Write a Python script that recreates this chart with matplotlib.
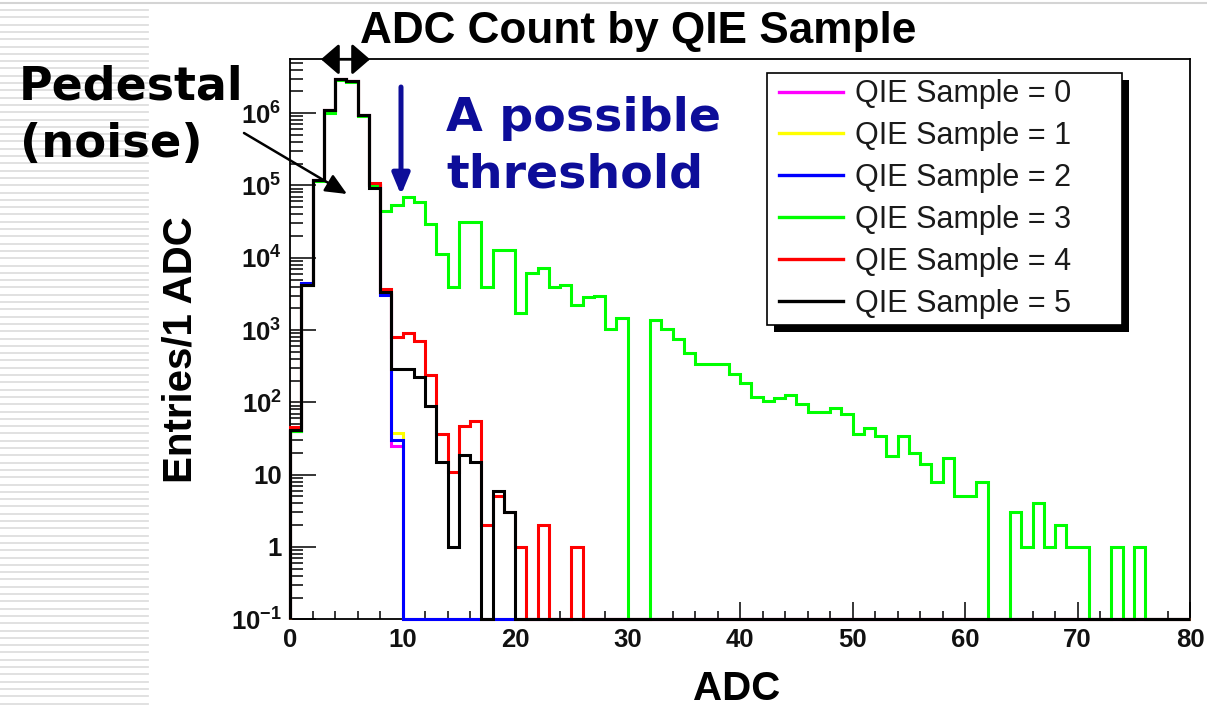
import numpy as np
import matplotlib
matplotlib.use("Agg")
import matplotlib.pyplot as plt
from matplotlib.lines import Line2D
from matplotlib.patches import Rectangle
from matplotlib.ticker import FixedLocator, FixedFormatter, NullFormatter

plt.rcParams['font.family'] = ['Liberation Sans', 'DejaVu Sans']
plt.rcParams['mathtext.fontset'] = 'custom'
plt.rcParams['mathtext.rm'] = 'Liberation Sans'
plt.rcParams['mathtext.bf'] = 'Liberation Sans:bold'
plt.rcParams['mathtext.it'] = 'Liberation Sans:italic'

# ---------------- data (entries per 1-ADC bin, starting at ADC 0) ----------------
n_bins = 80
series_labels = ["QIE Sample = 0", "QIE Sample = 1", "QIE Sample = 2",
                 "QIE Sample = 3", "QIE Sample = 4", "QIE Sample = 5"]
series_colors = ["#ff00ff", "#ffff00", "#0000ff", "#00ff00", "#ff0000", "#000000"]

sample0 = [40, 4300, 1.2e5, 1.1e6, 3.0e6, 2.75e6, 9.3e5, 1.0e5, 3.2e3, 25]
sample1 = [40, 4300, 1.2e5, 1.1e6, 3.0e6, 2.75e6, 9.3e5, 1.0e5, 3.2e3, 38]
sample2 = [40, 4500, 1.2e5, 1.1e6, 3.0e6, 2.75e6, 9.3e5, 1.0e5, 3.1e3, 30]
sample3 = [40, 4200, 1.15e5, 1.0e6, 2.9e6, 2.7e6, 9.0e5, 1.0e5,
           4.4e4, 5.3e4, 7.0e4, 5.9e4, 2.9e4, 1.12e4, 3.9e3, 3.1e4, 3.1e4, 3.9e3,
           1.26e4, 1.26e4, 1.74e3, 6.2e3, 7.1e3, 3.9e3, 4.2e3, 2.2e3, 2.9e3, 3.0e3,
           1050, 1480, 0, 0,
           1360, 1050, 760, 487, 335, 335, 335, 250, 187, 120, 104, 116, 126, 96,
           73, 73, 83, 70, 37, 44, 34, 18, 34, 20, 14, 8, 17, 5, 5, 8, 0, 0,
           3, 1, 4, 1, 2, 1, 1, 0, 0, 1, 0, 1]
sample4 = [45, 4200, 1.2e5, 1.1e6, 3.0e6, 2.75e6, 9.3e5, 1.07e5, 3.7e3, 810, 900, 700,
           240, 37, 11, 47, 55, 2, 5, 3, 1, 0, 2, 0, 0, 1]
sample5 = [41, 4200, 1.17e5, 1.1e6, 3.0e6, 2.75e6, 9.3e5, 9.1e4, 3.4e3, 285, 285, 226,
           88, 15, 1, 19, 15, 0, 6, 3]
samples = [sample0, sample1, sample2, sample3, sample4, sample5]

x_ticks = [0, 10, 20, 30, 40, 50, 60, 70, 80]
y_ticks = [0.1, 1, 10, 1e2, 1e3, 1e4, 1e5, 1e6]
y_ticklabels = [r"$\mathbf{10^{-1}}$", "1", "10", r"$\mathbf{10^{2}}$", r"$\mathbf{10^{3}}$",
                r"$\mathbf{10^{4}}$", r"$\mathbf{10^{5}}$", r"$\mathbf{10^{6}}$"]

# ---------------- figure ----------------
W, H = 1207, 708
fig = plt.figure(figsize=(W / 100, H / 100), dpi=100)
fig.patch.set_facecolor("white")

def fx(px):
    return px / W

def fy(py):
    return 1 - py / H

# slide template decoration: light horizontal stripes on the left and a top rule
for yy in np.arange(10, H, 7.3):
    fig.add_artist(Line2D([0, fx(148)], [fy(yy), fy(yy)], color="#dedede", lw=1.3,
                          transform=fig.transFigure, zorder=0))
fig.add_artist(Line2D([0, 1], [fy(3), fy(3)], color="#d4d4d4", lw=1.5,
                      transform=fig.transFigure, zorder=0))

ax_l, ax_r, ax_t, ax_b = 290, 1190, 59, 619.3
ax = fig.add_axes([fx(ax_l), fy(ax_b), fx(ax_r - ax_l), (ax_b - ax_t) / H])
ax.set_yscale("log")
ax.set_xlim(0, 80)
ax.set_ylim(0.1, 5.6e6)

edges = np.arange(0, n_bins + 1)
floor = 0.1
for vals, col in zip(samples, series_colors):
    v = np.zeros(n_bins)
    v[:len(vals)] = vals
    v = np.where(v > 0, v, floor)
    ax.stairs(v, edges, baseline=floor, color=col, lw=2.2, zorder=3, clip_on=False)

for s in ax.spines.values():
    s.set_linewidth(1.3)
    s.set_color("black")

ax.xaxis.set_major_locator(FixedLocator(x_ticks))
ax.xaxis.set_minor_locator(FixedLocator(np.arange(0, 81, 2)))
ax.yaxis.set_major_locator(FixedLocator(y_ticks))
minors = [m * 10.0 ** e for e in range(-1, 7) for m in range(2, 10)]
ax.yaxis.set_minor_locator(FixedLocator(minors))
ax.yaxis.set_major_formatter(FixedFormatter(y_ticklabels))
ax.yaxis.set_minor_formatter(NullFormatter())
ax.tick_params(axis="both", which="both", direction="in", top=False, right=False,
               width=1.1, colors="black")
ax.tick_params(axis="x", which="major", length=12, pad=6)
ax.tick_params(axis="x", which="minor", length=6)
ax.tick_params(axis="y", which="major", length=18.5, pad=6)
ax.tick_params(axis="y", which="minor", length=9.5)
for lab in ax.get_xticklabels() + ax.get_yticklabels():
    lab.set_fontsize(18.5)
    lab.set_fontweight("bold")
    lab.set_color("#111111")

# titles / axis labels
fig.text(fx(638), fy(32), "ADC Count by QIE Sample", fontsize=31.8, fontweight="bold",
         ha="center", va="center")
fig.text(fx(180), fy(350), "Entries/1 ADC", fontsize=29, fontweight="bold",
         rotation=90, ha="center", va="center")
fig.text(fx(737), fy(689), "ADC", fontsize=29, fontweight="bold", ha="center", va="center")

# legend box with ROOT-style shadow
lx0, ly0, lx1, ly1 = 767, 72.5, 1122, 325
fig.add_artist(Rectangle((fx(lx0 + 7), fy(ly1 + 7)), fx(lx1 - lx0), (ly1 - ly0) / H,
                         transform=fig.transFigure, facecolor="black", edgecolor="none",
                         zorder=5))
fig.add_artist(Rectangle((fx(lx0), fy(ly1)), fx(lx1 - lx0), (ly1 - ly0) / H,
                         transform=fig.transFigure, facecolor="white", edgecolor="black",
                         lw=1.2, zorder=6))
handles = [Line2D([], [], color=c, lw=2.4) for c in series_colors]
leg = fig.legend(handles, series_labels, loc="center left",
                 bbox_to_anchor=(fx(779), fy(199)), frameon=False, fontsize=22,
                 handlelength=2.1, handletextpad=0.4, labelspacing=0.39,
                 borderpad=0, borderaxespad=0)
leg.set_zorder(7)
for t in leg.get_texts():
    t.set_color("#1a1a1a")

# annotations
fig.text(fx(19), fy(100), "Pedestal", fontsize=33, fontweight="bold",
         family="DejaVu Sans", ha="left", va="baseline")
fig.text(fx(20), fy(157), "(noise)", fontsize=33.5, fontweight="bold",
         family="DejaVu Sans", ha="left", va="baseline")
navy = "#0d0d99"
fig.text(fx(446), fy(131), "A possible", fontsize=34.2, fontweight="bold",
         family="DejaVu Sans", color=navy, ha="left", va="baseline")
fig.text(fx(446), fy(187), "threshold", fontsize=34.2, fontweight="bold",
         family="DejaVu Sans", color=navy, ha="left", va="baseline")

def arrow(p0, p1, color, lw, hl, hw, style="-|>"):
    fig.add_artist(matplotlib.patches.FancyArrowPatch(
        (p0[0], H - p0[1]), (p1[0], H - p1[1]), transform=None,
        arrowstyle=f"{style},head_length={hl},head_width={hw}", mutation_scale=1,
        color=color, lw=lw, shrinkA=0, shrinkB=0, zorder=8))

# px -> pt conversions for heads (dpi 100): 1 px = 0.72 pt
arrow((244, 133), (347, 194), "black", 1.8, 13, 5.8)
arrow((401, 87), (401, 195), navy, 3.6, 12.5, 5.2)
arrow((321, 59.3), (370, 59.3), "black", 2.0, 11, 9.5, style="<|-|>")

fig.savefig("out.png", dpi=100)
